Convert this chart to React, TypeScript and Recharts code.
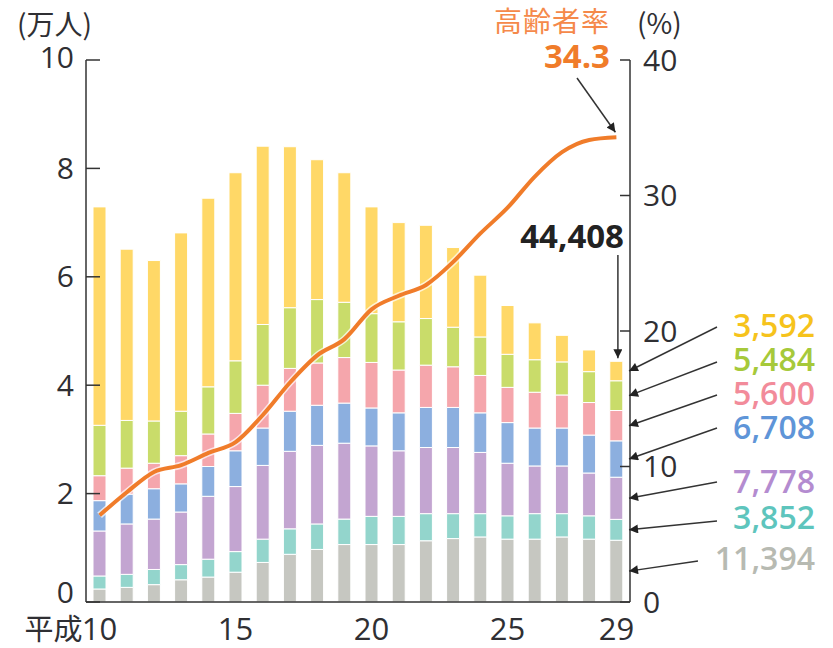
import { ComposedChart, Bar, Line, XAxis, YAxis } from 'recharts';

// 平成10〜29年
const years = ['10', '11', '12', '13', '14', '15', '16', '17', '18', '19', '20', '21', '22', '23', '24', '25', '26', '27', '28', '29'];

// 人数（人）, 下から順に積み上げ
const grayVals = [2400, 2700, 3200, 4100, 4600, 5500, 7300, 8800, 9700, 10600, 10600, 10600, 11300, 11700, 12000, 11600, 11600, 12000, 11600, 11394];
const tealVals = [2400, 2400, 2800, 2800, 3300, 3800, 4300, 4700, 4700, 4700, 5200, 5200, 5000, 4600, 4300, 4300, 4700, 4300, 4300, 3852];
const purpleVals = [8300, 9300, 9300, 9700, 11600, 12000, 13600, 14300, 14500, 14000, 13000, 12100, 12200, 12200, 11300, 9700, 8800, 8800, 7900, 7778];
const blueVals = [5600, 5500, 5600, 5200, 5500, 6600, 6900, 7400, 7400, 7400, 7000, 7000, 7400, 7400, 7300, 7500, 7000, 7000, 7000, 6708];
const pinkVals = [4600, 4800, 4700, 5200, 6000, 6900, 7900, 7900, 7800, 8400, 8400, 7900, 7800, 7500, 6900, 6500, 6600, 6100, 6000, 5600];
const greenVals = [9300, 8800, 7800, 8200, 8700, 9700, 11200, 11200, 11700, 10200, 9000, 8900, 8600, 7300, 7100, 6100, 6000, 6100, 5700, 5484];
const yellowVals = [40300, 31600, 29600, 32900, 34800, 34700, 32900, 29700, 25800, 23900, 19700, 18300, 17200, 14700, 11400, 9000, 6800, 4900, 4000, 3592];

// 高齢者率（%）
const rateVals = [6.4, 8.1, 9.6, 10.1, 11.0, 11.8, 13.8, 16.2, 18.2, 19.4, 21.6, 22.6, 23.4, 25.1, 27.2, 29.1, 31.4, 33.2, 34.1, 34.3];

const leftTicks = [0, 20000, 40000, 60000, 80000, 100000];
const rightTicks = [0, 10, 20, 30, 40];
const shownYears = ['10', '15', '20', '25', '29'];

const series = [
  { key: 'gray', vals: grayVals, fill: '#c6c7c1', text: '#b7bab2' },
  { key: 'teal', vals: tealVals, fill: '#93d5cc', text: '#5ec5bd' },
  { key: 'purple', vals: purpleVals, fill: '#c3a5d1', text: '#b48cd0' },
  { key: 'blue', vals: blueVals, fill: '#8cafdf', text: '#5f95d8' },
  { key: 'pink', vals: pinkVals, fill: '#f5a6ac', text: '#f28b9a' },
  { key: 'green', vals: greenVals, fill: '#c9dc6a', text: '#a6c93a' },
  { key: 'yellow', vals: yellowVals, fill: '#ffd867', text: '#f6c31c' },
];

const data = years.map((y, i) => {
  const row: Record<string, number | string> = { year: y, rate: rateVals[i] };
  series.forEach((s) => (row[s.key] = s.vals[i]));
  return row;
});

const W = 833;
const H = 648;
const TOP = 60;
const BOTTOM = 602;
const LEFT = 86;
const RIGHT = 630;
const NUM = "'Open Sans', 'Noto Sans', sans-serif";
const JP = "'Noto Sans CJK JP', 'Noto Sans', sans-serif";
const INK = '#2f2f33';
const ORANGE = '#f07c2a';

const yLeft = (v: number) => BOTTOM - (v / 100000) * (BOTTOM - TOP);
const yRight = (p: number) => BOTTOM - (p / 40) * (BOTTOM - TOP);
const band = (RIGHT - LEFT) / years.length;
const lastX = LEFT + band * (years.length - 0.5);

const fmt = (n: number) => n.toLocaleString('en-US');

function LeftTick(props: any) {
  const { x, y, payload } = props;
  const v = payload.value;
  const shift = v === 0 ? -10 : v === 100000 ? -3 : 0;
  return (
    <text x={x} y={y + 10.5 + shift} textAnchor="end" fontSize={30} fontFamily={NUM} fill={INK}>
      {v / 10000}
    </text>
  );
}

function RightTick(props: any) {
  const { x, y, payload } = props;
  return (
    <text x={x} y={y + 10.5} textAnchor="start" fontSize={30} fontFamily={NUM} fill={INK}>
      {payload.value}
    </text>
  );
}

function YearTick(props: any) {
  const { x, y, payload } = props;
  if (!shownYears.includes(payload.value)) return <g />;
  return (
    <g>
      {payload.value === '10' && (
        <text x={x - 17} y={y + 38} textAnchor="end" fontSize={29} fontFamily={JP} fill={INK}>
          平成
        </text>
      )}
      <text x={x} y={y + 38} textAnchor="middle" fontSize={31} fontFamily={NUM} fill={INK}>
        {payload.value}
      </text>
    </g>
  );
}

function Overlay() {
  const last = series.map((s) => s.vals[s.vals.length - 1]);
  const total = last.reduce((a, b) => a + b, 0);
  let acc = 0;
  const mids = last.map((v) => {
    const m = acc + v / 2;
    acc += v;
    return yLeft(m);
  });
  // label baselines from top (yellow) to bottom (gray)
  const labelBase = [337, 371, 405, 439, 493, 529, 570];
  const labelStartY = [327, 362, 395, 428, 482, 521, 561];
  const order = [6, 5, 4, 3, 2, 1, 0];
  const rY = yRight(rateVals[rateVals.length - 1]);
  return (
    <svg width={W} height={H} style={{ position: 'absolute', left: 0, top: 0, pointerEvents: 'none' }}>
      <defs>
        <marker id="ah" viewBox="0 0 10 10" refX="10" refY="5" markerWidth="10" markerHeight="9" markerUnits="userSpaceOnUse" orient="auto">
          <path d="M0,0 L10,5 L0,10 z" fill="#222" />
        </marker>
      </defs>
      <text x={17} y={35} fontSize={28} fontFamily={JP} fill={INK}>(万人)</text>
      <text x={637} y={34} fontSize={28} fontFamily={JP} fill={INK}>(%)</text>
      <text x={610} y={32} textAnchor="end" fontSize={28} letterSpacing={1} fontFamily={JP} fill="#f5894a">高齢者率</text>
      <text x={610} y={68} textAnchor="end" fontSize={33} fontWeight={700} fontFamily={NUM} fill={ORANGE}>
        {rateVals[rateVals.length - 1]}
      </text>
      <line x1={577} y1={78} x2={lastX - 1} y2={rY - 5} stroke="#333" strokeWidth={1.5} markerEnd="url(#ah)" />

      <text x={624} y={248} textAnchor="end" fontSize={33} fontWeight={700} fontFamily={NUM} fill="#222">
        {fmt(total)}
      </text>
      <line x1={lastX + 1.5} y1={255} x2={lastX + 1.5} y2={yLeft(total) - 3} stroke="#333" strokeWidth={1.5} markerEnd="url(#ah)" />

      {order.map((si, k) => (
        <g key={series[si].key}>
          <line
            x1={si === 0 ? 698 : 717}
            y1={labelStartY[k]}
            x2={RIGHT - 1}
            y2={mids[si]}
            stroke="#333"
            strokeWidth={1.5}
            markerEnd="url(#ah)"
          />
          <text x={815} y={labelBase[k]} textAnchor="end" fontSize={32} fontWeight={600} fontFamily={NUM} fill={series[si].text}>
            {fmt(last[si])}
          </text>
        </g>
      ))}
    </svg>
  );
}

export default function App() {
  return (
    <div style={{ position: 'absolute', left: 0, top: 0, width: W, height: H, background: '#fff' }}>
      <ComposedChart width={W} height={H} data={data} margin={{ top: TOP, right: 143, bottom: 6, left: 0 }}>
        <XAxis
          dataKey="year"
          height={40}
          interval={0}
          tickSize={0}
          tickMargin={0}
          tick={YearTick}
          axisLine={{ stroke: '#333', strokeWidth: 1.5 }}
          tickLine={false}
        />
        <YAxis
          yAxisId="left"
          width={86}
          domain={[0, 100000]}
          ticks={leftTicks}
          interval={0}
          tickSize={-14}
          tickMargin={26}
          tick={LeftTick}
          axisLine={{ stroke: '#333', strokeWidth: 1.5 }}
          tickLine={{ stroke: '#333', strokeWidth: 1.5 }}
        />
        <YAxis
          yAxisId="right"
          orientation="right"
          width={60}
          domain={[0, 40]}
          ticks={rightTicks}
          interval={0}
          tickSize={-10}
          tickMargin={23}
          tick={RightTick}
          axisLine={{ stroke: '#333', strokeWidth: 1.5 }}
          tickLine={{ stroke: '#333', strokeWidth: 1.5 }}
        />
        {series.map((s) => (
          <Bar
            key={s.key}
            yAxisId="left"
            dataKey={s.key}
            stackId="a"
            fill={s.fill}
            stroke="#fff"
            strokeWidth={1}
            barSize={13}
            isAnimationActive={false}
          />
        ))}
        <Line yAxisId="right" dataKey="rate" type="monotone" stroke="#fff" strokeWidth={7} strokeOpacity={0.7} dot={false} isAnimationActive={false} />
        <Line yAxisId="right" dataKey="rate" type="monotone" stroke={ORANGE} strokeWidth={4} dot={false} isAnimationActive={false} />
      </ComposedChart>
      <Overlay />
    </div>
  );
}
